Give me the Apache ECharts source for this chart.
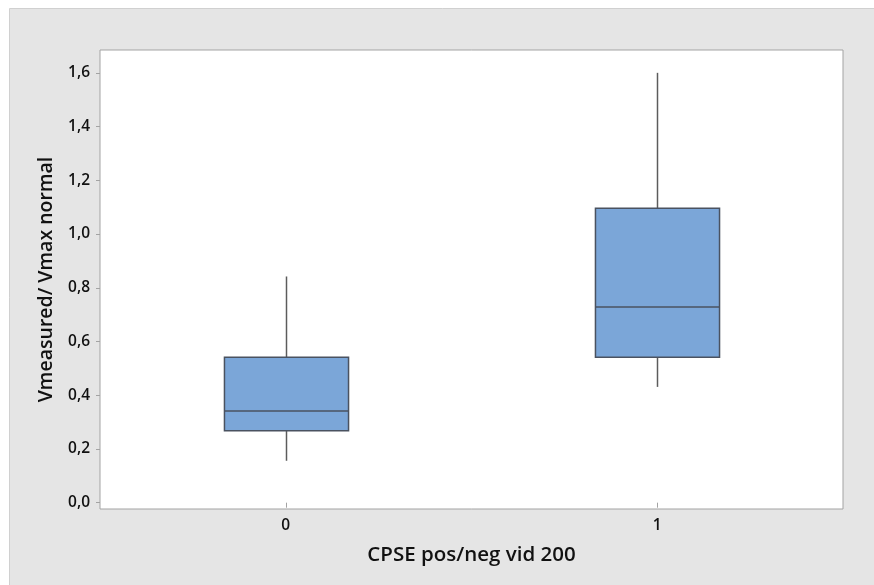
<!DOCTYPE html>
<html><head><meta charset="utf-8">
<script src="https://cdn.jsdelivr.net/npm/echarts@6/dist/echarts.min.js"></script>
<style>html,body{margin:0;padding:0;background:#fff}#c{width:874px;height:585px}</style>
</head><body><div id="c"></div>
<script>
const categories = ['0', '1'];
const whiskerLow = [0.156, 0.431];
const q1 = [0.268, 0.541];
const median = [0.341, 0.728];
const q3 = [0.541, 1.096];
const whiskerHigh = [0.842, 1.600];
const yTicks = [0, 0.2, 0.4, 0.6, 0.8, 1.0, 1.2, 1.4, 1.6];

const boxData = categories.map((c, i) => [i, whiskerLow[i], q1[i], median[i], q3[i], whiskerHigh[i]]);
const FONT = '"Open Sans", "DejaVu Sans", sans-serif';

function renderItem(params, api) {
  const i = api.value(0);
  const lo = api.coord([i, api.value(1)]);
  const b1 = api.coord([i, api.value(2)]);
  const md = api.coord([i, api.value(3)]);
  const b3 = api.coord([i, api.value(4)]);
  const hi = api.coord([i, api.value(5)]);
  const bw = api.size([1, 0])[0] * 0.334;
  const x = Math.round(lo[0]) + 0.5;
  const wStyle = { stroke: '#5c5c5c', lineWidth: 1.5 };
  const bStyle = { stroke: '#4a5260', lineWidth: 1.5 };
  return {
    type: 'group',
    children: [
      { type: 'line', shape: { x1: x, y1: hi[1], x2: x, y2: b3[1] }, style: wStyle },
      { type: 'line', shape: { x1: x, y1: b1[1], x2: x, y2: lo[1] }, style: wStyle },
      { type: 'rect', shape: { x: x - bw / 2, y: b3[1], width: bw, height: b1[1] - b3[1] }, style: { fill: '#7ba6d8', stroke: '#4a5260', lineWidth: 1.5 } },
      { type: 'line', shape: { x1: x - bw / 2, y1: md[1], x2: x + bw / 2, y2: md[1] }, style: bStyle }
    ]
  };
}

const chart = echarts.init(document.getElementById('c'), null, { renderer: 'canvas' });
chart.setOption({
  backgroundColor: '#ffffff',
  animation: false,
  graphic: [{
    type: 'rect', z: -100, silent: true,
    shape: { x: 9.5, y: 8.5, width: 880, height: 600 },
    style: { fill: '#e5e5e5', stroke: '#d0d0d0', lineWidth: 1 }
  }],
  grid: {
    left: 100, top: 50, right: 31, bottom: 76,
    show: true, backgroundColor: '#ffffff', borderColor: '#a3a3a3', borderWidth: 1
  },
  xAxis: {
    type: 'category',
    data: categories,
    boundaryGap: true,
    name: 'CPSE pos/neg vid 200',
    nameLocation: 'middle',
    nameGap: 36,
    nameTextStyle: { fontFamily: FONT, fontWeight: 600, fontSize: 20.5, color: '#111' },
    axisLine: { show: false },
    axisTick: { show: true, alignWithLabel: true, length: 5, lineStyle: { color: '#a3a3a3' } },
    axisLabel: { fontFamily: FONT, fontWeight: 600, fontSize: 15.5, color: '#111', margin: 9 },
    splitLine: { show: false }
  },
  yAxis: {
    type: 'value',
    min: -0.0235,
    max: 1.685,
    name: 'Vmeasured/ Vmax normal',
    nameLocation: 'middle',
    nameGap: 44,
    nameRotate: 90,
    nameTextStyle: { fontFamily: FONT, fontWeight: 600, fontSize: 19.5, color: '#111' },
    axisLine: { show: false },
    axisTick: { show: true, length: 4, customValues: yTicks, lineStyle: { color: '#a3a3a3' } },
    axisLabel: {
      fontFamily: FONT, fontWeight: 600, fontSize: 15.5, color: '#111', margin: 10,
      customValues: yTicks,
      formatter: v => v.toFixed(1).replace('.', ',')
    },
    splitLine: { show: false }
  },
  series: [{
    type: 'custom',
    renderItem: renderItem,
    encode: { x: 0, y: [1, 2, 3, 4, 5] },
    data: boxData
  }]
});
</script>
</body></html>
